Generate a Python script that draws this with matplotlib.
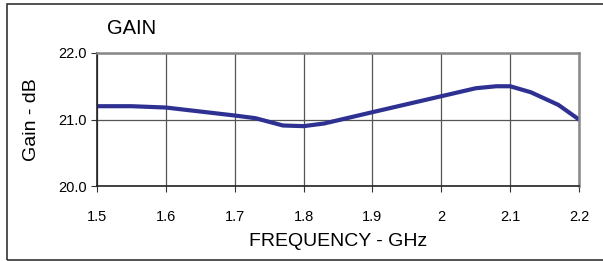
import matplotlib.pyplot as plt
from matplotlib.patches import Rectangle

freq = [1.50, 1.55, 1.60, 1.65, 1.70, 1.73, 1.77, 1.80, 1.83, 1.90, 1.95, 2.00, 2.05, 2.08, 2.10, 2.13, 2.17, 2.20]
gain = [21.20, 21.20, 21.18, 21.12, 21.06, 21.02, 20.91, 20.90, 20.94, 21.11, 21.23, 21.35, 21.47, 21.50, 21.50, 21.41, 21.22, 21.00]

xticks = [1.5, 1.6, 1.7, 1.8, 1.9, 2.0, 2.1, 2.2]
xlabels = ['1.5', '1.6', '1.7', '1.8', '1.9', '2', '2.1', '2.2']
yticks = [20.0, 21.0, 22.0]

plt.rcParams['font.family'] = ['Liberation Sans', 'DejaVu Sans']

fig = plt.figure(figsize=(6.03, 2.61), dpi=100)
# outer box of the chart (no right edge visible in the picture)
fig.patches.append(Rectangle((7 / 603, 1.5 / 261), 1.0, 256 / 261, transform=fig.transFigure,
                             fill=False, edgecolor='#333333', linewidth=1.2))

ax = fig.add_axes([97 / 603, 75 / 261, 482 / 603, 133 / 261])
ax.plot(freq, gain, color='#2E3192', linewidth=3.0, solid_capstyle='round')

ax.set_xlim(1.5, 2.2)
ax.set_ylim(20.0, 22.0)
ax.set_xticks(xticks)
ax.set_xticklabels(xlabels)
ax.set_yticks(yticks)
ax.set_yticklabels([f'{v:.1f}' for v in yticks])
ax.tick_params(axis='both', labelsize=10.5, direction='out', length=4, color='#333333')
ax.tick_params(axis='x', pad=13)
ax.grid(True, color='#555555', linewidth=0.9)

for side in ['left', 'bottom']:
    ax.spines[side].set_color('#222222')
    ax.spines[side].set_linewidth(1.2)
for side in ['top', 'right']:
    ax.spines[side].set_color('#888888')
    ax.spines[side].set_linewidth(1.8)

ax.set_xlabel('FREQUENCY - GHz', fontsize=14, labelpad=7)
ax.set_ylabel('Gain - dB', fontsize=14, labelpad=13)
fig.text(107 / 603, 1 - 28 / 261, 'GAIN', fontsize=14.5, va='center', ha='left')

fig.savefig('out.png', dpi=100)
